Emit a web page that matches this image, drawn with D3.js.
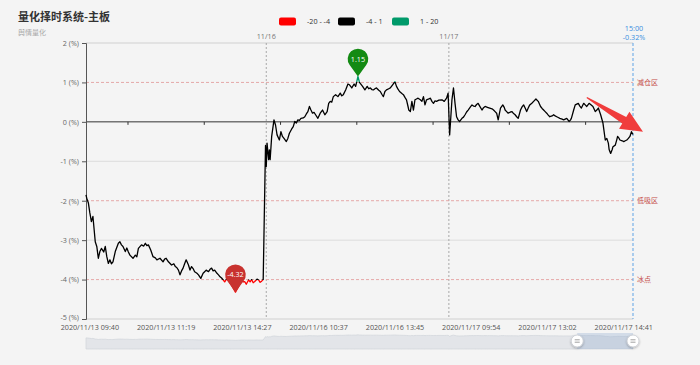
<!DOCTYPE html>
<html><head><meta charset="utf-8">
<script src="https://cdn.jsdelivr.net/npm/d3@7"></script>
<style>
html,body{margin:0;padding:0;background:#f4f4f4;}
svg{display:block;font-family:"Open Sans","Noto Sans CJK SC",sans-serif;}
</style></head><body>
<svg id="c" width="700" height="365"></svg>
<script>
// ---------- data ----------
const titleText = "量化择时系统-主板";
const subtitleText = "舆情量化";
const minuteIndex = [0,1,3,5,7,9,12,14,16,18,20,23,25,27,29,31,33,35,38,42,44,46,48,51,53,55,57,61,64,66,68,72,75,77,79,81,84,87,90,92,96,100,102,104,107,111,114,116,118,120,122,124,126,128,130,133,135,137,139,141,144,146,149,152,154,156,159,161,163,165,167,170,172,174,176,178,180,183,185,187,189,191,194,196,198,200,202,204,206,208,211,213,215,217,219,222,224,226,228,230,
233,234,235,237,238,239,241,244,246,248,251,253,255,257,260,262,264,267,269,271,273,275,277,279,282,284,286,288,290,292,294,296,298,301,304,307,310,313,315,317,319,321,324,327,330,332,334,337,340,342,345,348,350,353,355,357,359,362,365,367,369,371,373,375,377,380,382,384,386,388,390,393,395,398,401,403,405,407,410,412,414,416,418,419,421,423,425,427,429,431,434,436,438,440,442,445,447,449,451,453,455,458,462,465,468,470,
472,475,477,479,481,483,485,488,490,492,494,496,499,501,503,505,507,509,511,514,516,518,521,524,527,529,531,533,535,538,541,543,544,546,548,551,553,555,557,559,561,564,566,568,570,572,574,576,579,581,584,587,590,592,594,596,598,600,602,605,607,609,611,613,615,618,620,622,624,626,627,629,630,633,635,637,639,641,643,646,648,650,653,655,658,661,663,665,668,671,674,676,678,679,681,683,684,687,689,690,692,693,696,698,700,702,704,706,708,710];
const changePct = [-1.85,-1.94,-2.05,-2.31,-2.53,-2.40,-3.04,-3.16,-3.46,-3.29,-3.21,-3.30,-3.16,-3.42,-3.59,-3.50,-3.60,-3.55,-3.29,-3.08,-3.04,-3.12,-3.16,-3.29,-3.20,-3.30,-3.38,-3.46,-3.38,-3.42,-3.21,-3.12,-3.15,-3.08,-3.14,-3.12,-3.25,-3.42,-3.45,-3.50,-3.46,-3.55,-3.48,-3.46,-3.55,-3.63,-3.60,-3.67,-3.70,-3.76,-3.88,-3.78,-3.71,-3.60,-3.50,-3.63,-3.76,-3.67,-3.72,-3.80,-3.84,-3.88,-3.97,-3.84,-3.80,-3.76,-3.80,-3.74,-3.71,-3.78,-3.76,-3.84,-3.88,-3.93,-3.96,-4.01,-4.06,-3.97,-4.03,-4.09,-4.15,-4.22,-4.32,-4.25,-4.18,-4.10,-4.01,-4.06,-4.05,-4.12,-4.01,-4.06,-4.00,-4.08,-4.05,-3.99,-4.01,-4.07,-4.04,-4.00,
-0.60,-1.13,-0.54,-0.96,-0.71,-0.96,-0.37,0.05,-0.08,-0.33,-0.46,-0.25,-0.37,-0.42,-0.50,-0.42,-0.29,-0.18,-0.12,0.01,-0.03,0.05,0.04,0.09,0.10,0.13,0.20,0.26,0.39,0.30,0.22,0.24,0.18,0.09,0.22,0.30,0.18,0.26,0.47,0.52,0.50,0.64,0.69,0.64,0.73,0.66,0.69,0.81,0.96,0.94,0.86,0.96,0.90,1.15,1.00,0.95,0.90,0.81,0.90,0.84,0.86,0.82,0.81,0.84,0.86,0.80,0.77,0.70,0.64,0.77,0.81,0.84,0.86,0.94,1.02,0.90,0.83,0.77,0.72,0.69,0.62,0.56,0.39,0.30,0.26,0.52,0.30,0.56,0.58,0.60,0.56,0.52,0.64,0.43,0.56,0.58,0.60,0.52,0.47,0.53,0.52,0.55,0.56,0.52,0.60,0.73,
-0.33,0.56,0.86,0.47,0.13,0.05,0.01,0.09,0.12,0.18,0.25,0.30,0.38,0.43,0.40,0.39,0.44,0.47,0.40,0.30,0.36,0.39,0.37,0.35,0.33,0.30,0.26,0.22,0.05,0.35,0.43,0.36,0.30,0.26,0.22,0.25,0.26,0.21,0.18,0.13,0.09,0.30,0.38,0.43,0.35,0.26,0.35,0.43,0.48,0.52,0.58,0.52,0.39,0.34,0.30,0.26,0.22,0.17,0.13,0.15,0.18,0.15,0.13,0.11,0.09,0.07,0.05,0.07,0.09,0.04,0.01,0.05,0.09,0.30,0.43,0.45,0.47,0.40,0.35,0.47,0.43,0.39,0.47,0.44,0.39,0.26,0.30,0.35,0.18,-0.03,-0.46,-0.42,-0.54,-0.70,-0.80,-0.70,-0.63,-0.59,-0.45,-0.37,-0.42,-0.46,-0.48,-0.50,-0.48,-0.46,-0.42,-0.37,-0.25,-0.32];
const totalMinutes = 710;
const xTickIndex = [5,104,203,302,401,500,599,698];
const xTickLabels = ["2020/11/13 09:40","2020/11/13 11:19","2020/11/13 14:27","2020/11/16 10:37","2020/11/16 13:45","2020/11/17 09:54","2020/11/17 13:02","2020/11/17 14:41"];
const yTicks = [2,1,0,-1,-2,-3,-4,-5];
const dayBreakIndex = [234,471];
const dayBreakLabels = ["11/16","11/17"];
const zoneLevels = [1,-2,-4];
const zoneLabels = ["减仓区","低吸区","冰点"];
const pieceLabels = ["-20 - -4","-4 - 1","1 - 20"];
const pieceColors = ["#ff0000","#000000","#009a6a"];
const pieceBounds = [-4,1];
const pointerTime = "15:00";
const pointerValue = -0.32;
const zoomWindow = [0.898,1.0];
const arrowFrom = [650,0.62], arrowTo = [723,-0.25];

// ---------- layout ----------
const svg = d3.select("#c");
const L = 86, R = 633, T = 43, B = 319;
const x = d3.scaleLinear().domain([0,totalMinutes]).range([L,R]);
const y = d3.scaleLinear().domain([-5,2]).range([B,T]);
const data = minuteIndex.map((m,i)=>({m, v:changePct[i]}));

// title
svg.append("text").attr("x",18).attr("y",21).attr("font-size",11).attr("font-weight","bold")
  .attr("fill","#333").attr("font-family","Noto Sans CJK SC").text(titleText);
svg.append("text").attr("x",18).attr("y",35).attr("font-size",7).attr("fill","#aaa")
  .attr("font-family","Noto Sans CJK SC").text(subtitleText);

// legend
const lg = svg.append("g");
const legX = [279,338,392];
pieceLabels.forEach((t,i)=>{
  lg.append("rect").attr("x",legX[i]).attr("y",17.5).attr("width",17).attr("height",8).attr("rx",2).attr("fill",pieceColors[i]);
  lg.append("text").attr("x",legX[i]+28).attr("y",24).attr("font-size",7.2).attr("fill","#333").text(t);
});

// grid lines
const grid = svg.append("g");
[2,-1,-3].forEach(v=>{
  grid.append("line").attr("x1",L).attr("x2",R).attr("y1",y(v)).attr("y2",y(v))
    .attr("stroke","#dcdcdc").attr("stroke-width", v===2?1.6:1);
});
grid.append("line").attr("x1",L).attr("x2",R).attr("y1",B).attr("y2",B).attr("stroke","#cfcfcf").attr("stroke-width",1.2);

// day breaks
dayBreakIndex.forEach((d,i)=>{
  grid.append("line").attr("x1",x(d)).attr("x2",x(d)).attr("y1",T).attr("y2",B)
    .attr("stroke","#a0a0a0").attr("stroke-dasharray","2,2").attr("stroke-width",0.9);
  grid.append("text").attr("x",x(d)).attr("y",39).attr("text-anchor","middle").attr("font-size",7.2)
    .attr("fill","#777").text(dayBreakLabels[i]);
});

// zone lines
zoneLevels.forEach((v,i)=>{
  grid.append("line").attr("x1",L).attr("x2",R).attr("y1",y(v)).attr("y2",y(v))
    .attr("stroke","#e3a0a0").attr("stroke-dasharray","3,2").attr("stroke-width",0.9);
  grid.append("text").attr("x",R+4).attr("y",y(v)+2.5).attr("font-size",7).attr("fill","#c44a44")
    .attr("font-family","Noto Sans CJK SC").text(zoneLabels[i]);
});

// zero line with ticks
grid.append("line").attr("x1",L).attr("x2",R).attr("y1",y(0)).attr("y2",y(0)).attr("stroke","#333").attr("stroke-width",1);
xTickIndex.slice(0,-1).forEach((d,i)=>{
  const mid = (d + xTickIndex[i+1])/2;
  grid.append("line").attr("x1",x(mid)).attr("x2",x(mid)).attr("y1",y(0)).attr("y2",y(0)+3).attr("stroke","#333");
});

// y axis
const yAxis = d3.axisLeft(y).tickValues(yTicks).tickSize(4).tickPadding(3).tickFormat(d=>d+" (%)");
const ya = svg.append("g").attr("transform",`translate(${L},0)`).call(yAxis);
ya.select(".domain").attr("stroke","#555");
ya.selectAll(".tick line").attr("stroke","#555");
ya.selectAll("text").attr("font-size",7.2).attr("fill","#666").attr("font-family","Open Sans");
ya.selectAll(".tick").filter(d=>d===-5).select("text").attr("dy","0.1em");

// x labels
xTickIndex.forEach((d,i)=>{
  svg.append("text").attr("x",x(d)).attr("y",329.5).attr("text-anchor","middle").attr("font-size",7.2)
    .attr("fill","#555").text(xTickLabels[i]);
});

// pointer line
svg.append("line").attr("x1",R).attr("x2",R).attr("y1",T).attr("y2",B)
  .attr("stroke","#5fa3e6").attr("stroke-dasharray","3,2").attr("stroke-width",1);
svg.append("text").attr("x",R+1).attr("y",31).attr("text-anchor","middle").attr("font-size",7.2).attr("fill","#3a8ee0").text(pointerTime);
svg.append("text").attr("x",R+1).attr("y",40).attr("text-anchor","middle").attr("font-size",7.2).attr("fill","#3a8ee0").text(pointerValue.toFixed(2)+"%");

// gradient for piecewise colour
const defs = svg.append("defs");
const gr = defs.append("linearGradient").attr("id","pg").attr("gradientUnits","userSpaceOnUse")
  .attr("x1",0).attr("x2",0).attr("y1",y(pieceBounds[1])).attr("y2",y(pieceBounds[0]));
gr.append("stop").attr("offset",0).attr("stop-color",pieceColors[2]);
gr.append("stop").attr("offset",0).attr("stop-color",pieceColors[1]);
gr.append("stop").attr("offset",1).attr("stop-color",pieceColors[1]);
gr.append("stop").attr("offset",1).attr("stop-color",pieceColors[0]);

const line = d3.line().x(d=>x(d.m)).y(d=>y(d.v));
svg.append("path").datum(data).attr("d",line).attr("fill","none").attr("stroke","url(#pg)")
  .attr("stroke-width",1.3).attr("stroke-linejoin","round");

// mark points
const maxD = data.reduce((a,b)=>b.v>a.v?b:a);
const minD = data.reduce((a,b)=>b.v<a.v?b:a);
function pin(d,color){
  const g = svg.append("g").attr("transform",`translate(${x(d.m)},${y(d.v)})`);
  g.append("path").attr("d","M0,0 L-8.3,-11.4 A10.3,10.3 0 1 1 8.3,-11.4 Z").attr("fill",color);
  g.append("text").attr("x",0).attr("y",-15).attr("text-anchor","middle").attr("font-size",7.2)
    .attr("fill","#fff").text(d.v.toFixed(2));
}
pin(maxD,"#138a13");
pin(minD,"#c8322f");

// data zoom slider
const zy = d3.scaleLinear().domain([-13,3]).range([349,333]);
const area = d3.area().x(d=>x(d.m)).y0(349).y1(d=>zy(d.v));
svg.append("path").datum(data).attr("d",area).attr("fill","#e3e5e9").attr("stroke","#d0d4da").attr("stroke-width",0.7);
const zx0 = L + (R-L)*zoomWindow[0], zx1 = L + (R-L)*zoomWindow[1];
svg.append("rect").attr("x",zx0).attr("y",333).attr("width",zx1-zx0).attr("height",16).attr("fill","rgba(150,175,210,0.35)");
const flt = defs.append("filter").attr("id","sh").attr("x","-50%").attr("y","-50%").attr("width","200%").attr("height","200%");
flt.append("feDropShadow").attr("dx",0).attr("dy",1).attr("stdDeviation",1).attr("flood-color","#000").attr("flood-opacity",0.3);
[zx0,zx1].forEach(hx=>{
  const g = svg.append("g").attr("transform",`translate(${hx},341)`);
  g.append("circle").attr("r",6).attr("fill","#fff").attr("stroke","#c8ccd2").attr("stroke-width",0.8).attr("filter","url(#sh)");
  [-1.2,1.2].forEach(o=>g.append("line").attr("x1",-2.5).attr("x2",2.5).attr("y1",o).attr("y2",o).attr("stroke","#888").attr("stroke-width",0.8));
});

// red arrow annotation
(function(){
  const x0 = x(arrowFrom[0]), y0 = y(arrowFrom[1]), x1 = x(arrowTo[0]), y1 = y(arrowTo[1]);
  const dx = x1-x0, dy = y1-y0, len = Math.hypot(dx,dy), ux = dx/len, uy = dy/len, nx = -uy, ny = ux;
  const headL = 22, headW = 10, shaftW0 = 0.6, shaftW1 = 3.8;
  const bx = x1 - ux*headL, by = y1 - uy*headL;
  const pts = [
    [x0+nx*shaftW0, y0+ny*shaftW0],
    [bx+nx*shaftW1, by+ny*shaftW1],
    [bx+nx*headW, by+ny*headW],
    [x1,y1],
    [bx-nx*headW, by-ny*headW],
    [bx-nx*shaftW1, by-ny*shaftW1],
    [x0-nx*shaftW0, y0-ny*shaftW0]
  ];
  svg.append("polygon").attr("points",pts.map(p=>p.join(",")).join(" ")).attr("fill","#f03c3c");
})();
</script>
</body></html>
